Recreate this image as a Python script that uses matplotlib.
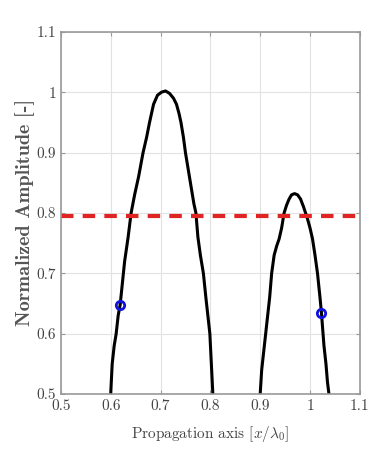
import matplotlib
matplotlib.use("Agg")
import matplotlib.pyplot as plt
from matplotlib.ticker import FuncFormatter

plt.rcParams["font.family"] = "serif"
plt.rcParams["font.serif"] = ["cmr10", "DejaVu Serif"]
plt.rcParams["mathtext.fontset"] = "cm"
plt.rcParams["axes.formatter.use_mathtext"] = True

# first peak
x1 = [0.600, 0.603, 0.607, 0.611, 0.615, 0.619, 0.623, 0.628, 0.635, 0.641, 0.648, 0.656,
      0.665, 0.672, 0.678, 0.686, 0.694, 0.702, 0.710, 0.718, 0.726, 0.732, 0.737, 0.741,
      0.746, 0.750, 0.756, 0.762, 0.767, 0.771, 0.775, 0.780, 0.786, 0.791, 0.795, 0.799,
      0.802, 0.805]
y1 = [0.50, 0.55, 0.58, 0.60, 0.63, 0.648, 0.68, 0.72, 0.76, 0.80, 0.83, 0.86,
      0.90, 0.925, 0.95, 0.98, 0.995, 1.0, 1.002, 0.998, 0.99, 0.98, 0.965, 0.95,
      0.925, 0.90, 0.87, 0.84, 0.815, 0.80, 0.76, 0.73, 0.70, 0.66, 0.63, 0.60,
      0.55, 0.50]

# second peak
x2 = [0.900, 0.903, 0.907, 0.911, 0.915, 0.919, 0.923, 0.928, 0.933, 0.938, 0.943, 0.948,
      0.953, 0.958, 0.963, 0.969, 0.975, 0.981, 0.987, 0.991, 0.995, 1.000, 1.005, 1.010,
      1.015, 1.020, 1.023, 1.025, 1.028, 1.032, 1.035, 1.038]
y2 = [0.50, 0.54, 0.57, 0.60, 0.63, 0.66, 0.70, 0.73, 0.745, 0.757, 0.775, 0.80,
      0.813, 0.823, 0.830, 0.832, 0.83, 0.823, 0.81, 0.80, 0.79, 0.775, 0.757, 0.73,
      0.70, 0.66, 0.634, 0.612, 0.58, 0.55, 0.52, 0.50]

marker_x = [0.619, 1.023]
marker_y = [0.648, 0.634]
threshold = 0.795

xticks = [0.5, 0.6, 0.7, 0.8, 0.9, 1.0, 1.1]
yticks = [0.5, 0.6, 0.7, 0.8, 0.9, 1.0, 1.1]

fig = plt.figure(figsize=(3.78, 4.54), dpi=100)
ax = fig.add_axes([0.161, 0.132, 0.791, 0.798])

ax.plot(x1, y1, color="black", lw=2.2)
ax.plot(x2, y2, color="black", lw=2.2)
ax.axhline(threshold, color="#e02424", lw=3, ls=(0, (3, 2.2)))
ax.plot(marker_x, marker_y, "o", mfc="none", mec="#1010e0", mew=2, ms=6)

ax.set_xlim(0.5, 1.1)
ax.set_ylim(0.5, 1.1)
ax.set_xticks(xticks)
ax.set_yticks(yticks)
fmt = FuncFormatter(lambda v, p: "%g" % round(v, 2))
ax.xaxis.set_major_formatter(fmt)
ax.yaxis.set_major_formatter(fmt)
ax.grid(True, color="#e2e2e2", lw=0.8)
ax.tick_params(direction="in", top=True, right=True, length=3, color="#999999",
               labelsize=11, labelcolor="#444444")
for s in ax.spines.values():
    s.set_color("#999999")
    s.set_linewidth(1.2)

ax.set_xlabel(r"Propagation axis [$x/\lambda_0$]", fontsize=11, color="#444444",
              labelpad=8)
ax.set_ylabel("Normalized Amplitude [-]", fontsize=14.5, color="#555555",
              family=["cmb10", "DejaVu Serif"], labelpad=1)

fig.savefig("out.png", dpi=100)
